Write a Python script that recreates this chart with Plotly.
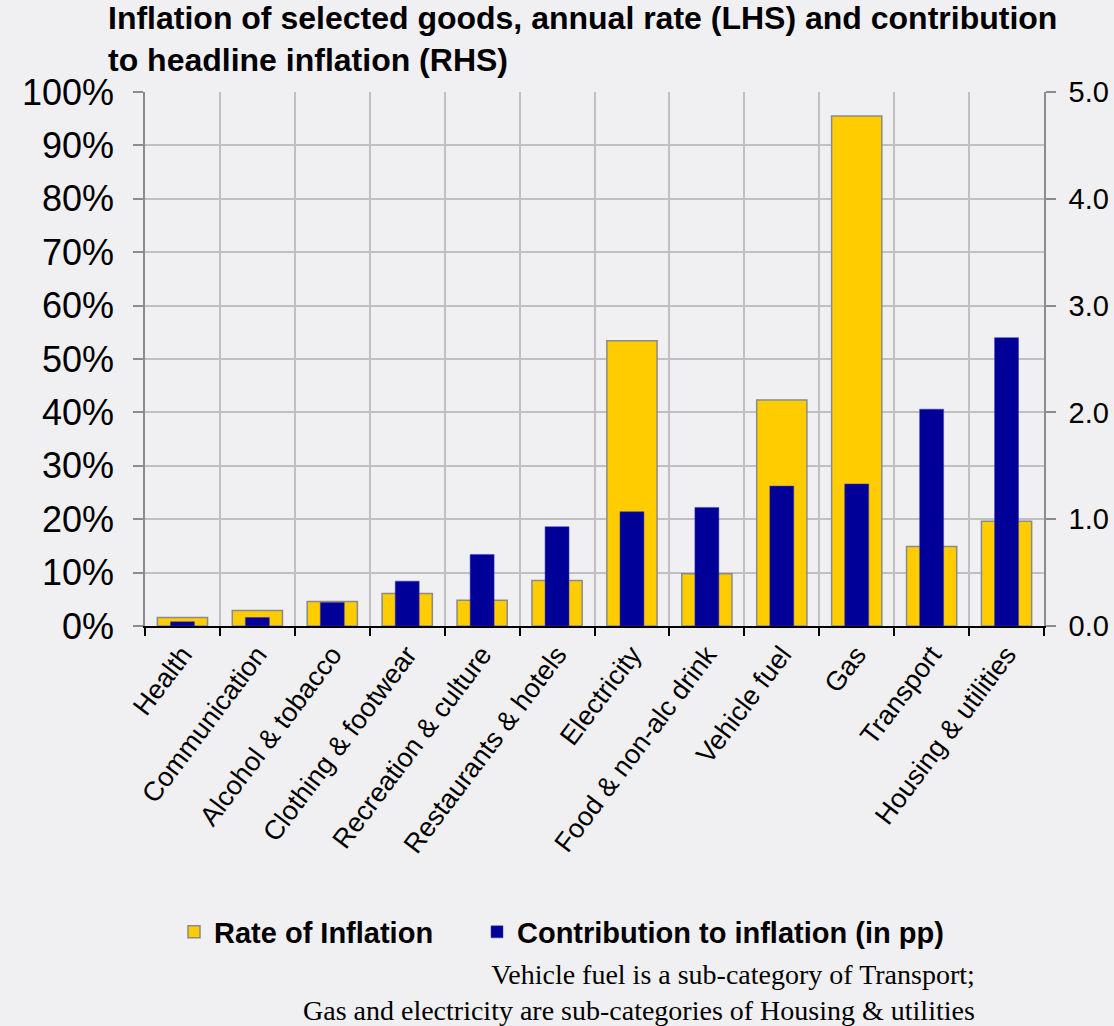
import plotly.graph_objects as go

categories = ["Health", "Communication", "Alcohol & tobacco", "Clothing & footwear",
              "Recreation & culture", "Restaurants & hotels", "Electricity",
              "Food & non-alc drink", "Vehicle fuel", "Gas", "Transport", "Housing & utilities"]
rate_of_inflation = [1.6, 2.9, 4.6, 6.1, 4.8, 8.5, 53.4, 9.8, 42.3, 95.5, 14.9, 19.6]
contribution_pp = [0.04, 0.08, 0.22, 0.42, 0.67, 0.93, 1.07, 1.11, 1.31, 1.33, 2.03, 2.70]

left_ticks = [0, 10, 20, 30, 40, 50, 60, 70, 80, 90, 100]
left_tick_text = [f"{v}%" for v in left_ticks]
right_ticks = [0, 1, 2, 3, 4, 5]
right_tick_text = [f"{v:.1f}" for v in right_ticks]

BG = "#f0f0f2"
GRID = "#c0c0c0"
AXIS = "#8c8c8c"
SANS = "Liberation Sans, Arial, sans-serif"
SERIF = "Liberation Serif, Times New Roman, serif"

# plot-area pixel geometry (for paper coordinates of text)
L, R, T, B = 145, 1044, 92, 626
def px_x(x):
    return (x - L) / (R - L)
def px_y(y):
    return (B - y) / (B - T)

fig = go.Figure()
fig.add_trace(go.Bar(
    x=categories, y=rate_of_inflation, name="<b>Rate of Inflation</b>",
    marker=dict(color="#ffcc00", line=dict(color="#8a8a8a", width=1.5)),
    width=0.67, yaxis="y", legend="legend"))
fig.add_trace(go.Bar(
    x=categories, y=contribution_pp, name="<b>Contribution to inflation (in pp)</b>",
    marker=dict(color="#000099", line=dict(color="#3a3ab8", width=0.5)),
    width=0.32, yaxis="y2", legend="legend2"))

legend_common = dict(orientation="h", xanchor="left", yanchor="middle", y=px_y(932),
                     bgcolor="rgba(0,0,0,0)", font=dict(size=29, family=SANS), itemwidth=30)

fig.update_layout(
    width=1114, height=1026,
    paper_bgcolor=BG, plot_bgcolor=BG,
    barmode="overlay",
    margin=dict(l=L, r=1114 - R, t=T, b=1026 - B, autoexpand=False),
    font=dict(family=SANS, color="black"),
    xaxis=dict(
        type="category", range=[-0.5, 11.5], automargin=False,
        tickson="boundaries", ticks="outside", ticklen=8, tickcolor="black", tickwidth=2,
        showline=True, linecolor="black", linewidth=2,
        showgrid=True, gridcolor=GRID, gridwidth=1.5,
        tickangle=-53, tickfont=dict(size=27)),
    yaxis=dict(
        range=[0, 100], tickvals=left_ticks, ticktext=left_tick_text, automargin=False,
        ticks="outside", ticklen=10, tickcolor=AXIS, tickwidth=1.5,
        showline=True, linecolor=AXIS, linewidth=1.5,
        showgrid=True, gridcolor=GRID, gridwidth=1.5, zeroline=False,
        ticklabelstandoff=12,
        tickfont=dict(size=36)),
    yaxis2=dict(
        range=[0, 5], tickvals=right_ticks, ticktext=right_tick_text, automargin=False,
        overlaying="y", side="right",
        ticks="outside", ticklen=10, tickcolor=AXIS, tickwidth=1.5,
        showline=True, linecolor=AXIS, linewidth=1.5,
        showgrid=False, zeroline=False,
        ticklabelstandoff=7,
        tickfont=dict(size=29)),
    legend=dict(x=px_x(174), **legend_common),
    legend2=dict(x=px_x(477), **legend_common),
    showlegend=True,
)

fig.add_annotation(
    text="<b>Inflation of selected goods, annual rate (LHS) and contribution<br>to headline inflation (RHS)</b>",
    xref="paper", yref="paper", x=px_x(106), y=px_y(39),
    xanchor="left", yanchor="middle", align="left", showarrow=False,
    font=dict(family=SANS, size=32, color="black"))

fig.add_annotation(
    text="Vehicle fuel is a sub-category of Transport;<br>Gas and electricity are sub-categories of Housing & utilities",
    xref="paper", yref="paper", x=px_x(977), y=px_y(992),
    xanchor="right", yanchor="middle", align="right", showarrow=False,
    font=dict(family=SERIF, size=28, color="black"))

fig.write_html("out.html")
